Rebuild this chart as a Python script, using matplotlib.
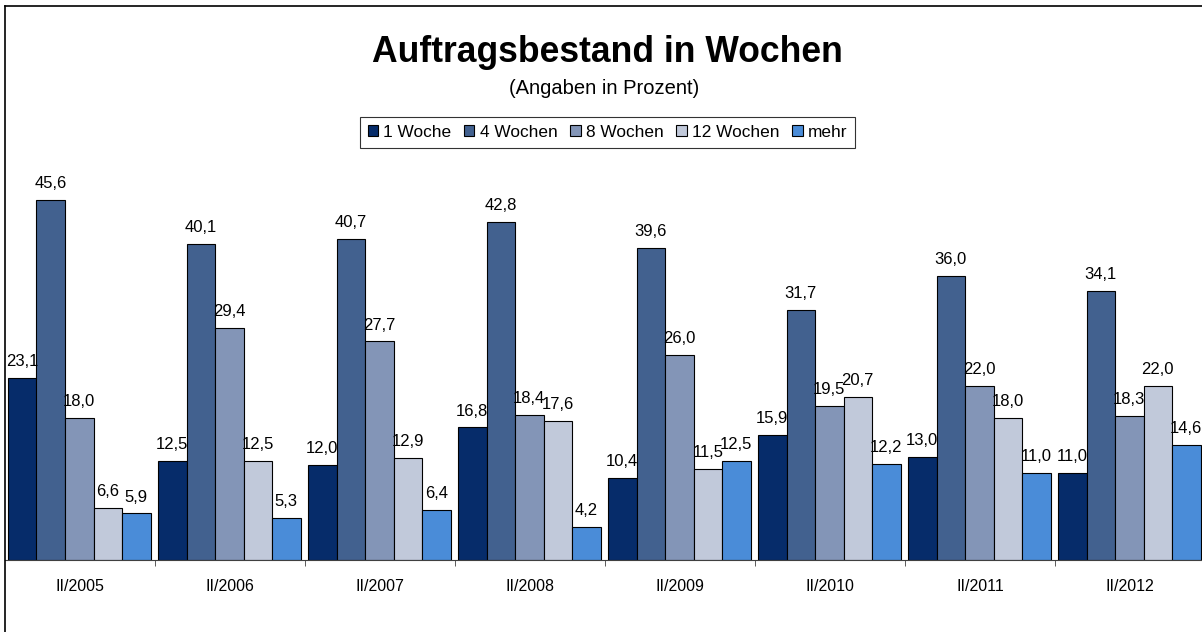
import numpy as np
import matplotlib
matplotlib.use('Agg')
import matplotlib.pyplot as plt
from matplotlib.lines import Line2D

plt.rcParams['font.family'] = ['Liberation Sans', 'DejaVu Sans']

# data
periods = ['II/2005', 'II/2006', 'II/2007', 'II/2008', 'II/2009', 'II/2010', 'II/2011', 'II/2012']
series = ['1 Woche', '4 Wochen', '8 Wochen', '12 Wochen', 'mehr']
woche1 = [23.1, 12.5, 12.0, 16.8, 10.4, 15.9, 13.0, 11.0]
wochen4 = [45.6, 40.1, 40.7, 42.8, 39.6, 31.7, 36.0, 34.1]
wochen8 = [18.0, 29.4, 27.7, 18.4, 26.0, 19.5, 22.0, 18.3]
wochen12 = [6.6, 12.5, 12.9, 17.6, 11.5, 20.7, 18.0, 22.0]
mehr = [5.9, 5.3, 6.4, 4.2, 12.5, 12.2, 11.0, 14.6]
colors = ['#062c6a', '#42618f', '#8395b7', '#c1c9da', '#4a8cd8']

values = [woche1, wochen4, wochen8, wochen12, mehr]

fig = plt.figure(figsize=(12.02, 6.32), dpi=100)
ax = fig.add_axes([5/1202, 1 - 560/632, 1200/1202, (560 - 165.5)/632])

x = np.arange(len(periods))
width = 0.19
for i, (name, vals) in enumerate(zip(series, values)):
    pos = x - 2*width + i*width - 0.005
    rects = ax.bar(pos, vals, width, color=colors[i], edgecolor='black', linewidth=0.8, label=name)
    for r, v in zip(rects, vals):
        ax.annotate(('%.1f' % v).replace('.', ','), (r.get_x() + r.get_width()/2, v),
                    xytext=(0, 8.6), textcoords='offset points', ha='center', va='baseline',
                    fontsize=12, annotation_clip=False)

ax.set_xlim(-0.5, len(periods) - 0.5)
ax.set_ylim(0, 50)
ax.set_yticks([])
ax.set_xticks(x)
ax.set_xticklabels(periods, fontsize=11.5)
ax.tick_params(axis='x', which='major', length=0, pad=14)
ax.set_xticks(np.arange(len(periods)) + 0.5, minor=True)
ax.tick_params(axis='x', which='minor', length=4.5, direction='out', color='#404040')
for s in ['top', 'right']:
    ax.spines[s].set_visible(False)
ax.spines['left'].set_visible(False)
ax.spines['bottom'].set_color('#404040')

fig.text(0.505, 1 - 52/632, 'Auftragsbestand in Wochen', ha='center', va='center',
         fontsize=25.6, fontweight='bold')
fig.text(0.5025, 1 - 89/632, '(Angaben in Prozent)', ha='center', va='center', fontsize=14.5)

leg = fig.legend(loc='center', bbox_to_anchor=(0.5054, 1 - 132.5/632), ncol=5, fontsize=12.4,
                 frameon=True, fancybox=False, edgecolor='black', handlelength=0.6,
                 handleheight=0.6, handletextpad=0.3, columnspacing=0.75, borderpad=0.45)
leg.get_frame().set_linewidth(0.8)

# outer border (left and top visible)
fig.add_artist(Line2D([5/1202, 5/1202], [0, 1 - 6/632], color='black', lw=1.2))
fig.add_artist(Line2D([5/1202, 1], [1 - 6/632, 1 - 6/632], color='black', lw=1.2))

fig.savefig('out.png', dpi=100)
